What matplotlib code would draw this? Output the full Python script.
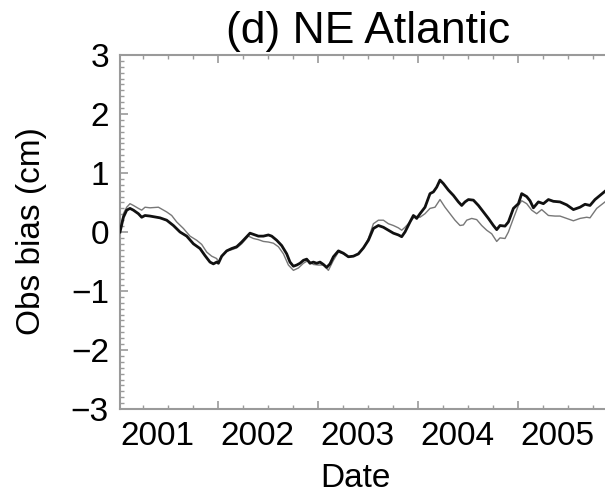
import matplotlib
matplotlib.use("Agg")
import matplotlib.pyplot as plt
from matplotlib.ticker import MultipleLocator, NullFormatter
from matplotlib.transforms import blended_transform_factory

plt.rcParams['font.family'] = ['Liberation Sans', 'DejaVu Sans']

# Thick black series (decimal years, cm)
black_t = [2001.023, 2001.057, 2001.090, 2001.123, 2001.157, 2001.207, 2001.240, 2001.273,
           2001.323, 2001.423, 2001.490, 2001.557, 2001.623, 2001.690, 2001.757, 2001.823,
           2001.873, 2001.923, 2001.957, 2001.990, 2002.007, 2002.040, 2002.090, 2002.140,
           2002.190, 2002.240, 2002.290, 2002.323, 2002.357, 2002.407, 2002.457, 2002.507,
           2002.540, 2002.590, 2002.640, 2002.690, 2002.723, 2002.757, 2002.790, 2002.823,
           2002.857, 2002.890, 2002.923, 2002.957, 2002.990, 2003.023, 2003.057, 2003.090,
           2003.123, 2003.157, 2003.207, 2003.257, 2003.307, 2003.357, 2003.407, 2003.457,
           2003.507, 2003.557, 2003.607, 2003.657, 2003.707, 2003.757, 2003.807, 2003.840,
           2003.873, 2003.923, 2003.957, 2003.990, 2004.023, 2004.073, 2004.123, 2004.157,
           2004.190, 2004.223, 2004.257, 2004.307, 2004.357, 2004.407, 2004.440, 2004.473,
           2004.507, 2004.557, 2004.607, 2004.657, 2004.707, 2004.757, 2004.790, 2004.823,
           2004.873, 2004.907, 2004.957, 2005.007, 2005.040, 2005.090, 2005.123, 2005.157,
           2005.207, 2005.257, 2005.307, 2005.357, 2005.423, 2005.490, 2005.557, 2005.623,
           2005.673, 2005.723, 2005.773, 2005.823, 2005.873]
black_v = [0.00, 0.25, 0.37, 0.40, 0.37, 0.31, 0.25, 0.28,
           0.27, 0.24, 0.20, 0.11, 0.00, -0.07, -0.20, -0.28,
           -0.40, -0.51, -0.54, -0.51, -0.53, -0.41, -0.32, -0.28,
           -0.25, -0.17, -0.08, -0.02, -0.04, -0.07, -0.07, -0.05,
           -0.07, -0.14, -0.23, -0.37, -0.51, -0.58, -0.56, -0.53,
           -0.48, -0.46, -0.53, -0.51, -0.53, -0.51, -0.55, -0.60,
           -0.54, -0.42, -0.32, -0.36, -0.42, -0.41, -0.37, -0.27,
           -0.14, 0.06, 0.11, 0.08, 0.03, -0.02, -0.05, -0.08,
           0.00, 0.17, 0.28, 0.23, 0.31, 0.42, 0.65, 0.68,
           0.76, 0.88, 0.82, 0.71, 0.62, 0.51, 0.45, 0.51,
           0.55, 0.54, 0.45, 0.34, 0.23, 0.11, 0.04, 0.11,
           0.10, 0.17, 0.40, 0.48, 0.65, 0.60, 0.53, 0.41,
           0.51, 0.48, 0.55, 0.52, 0.51, 0.46, 0.38, 0.42,
           0.47, 0.45, 0.55, 0.62, 0.69]

# Thin grey series
grey_t = [2001.023, 2001.057, 2001.090, 2001.123, 2001.157, 2001.207, 2001.240, 2001.273,
          2001.323, 2001.407, 2001.490, 2001.540, 2001.590, 2001.657, 2001.723, 2001.790,
          2001.840, 2001.890, 2001.940, 2001.990, 2002.007, 2002.040, 2002.090, 2002.140,
          2002.190, 2002.240, 2002.307, 2002.357, 2002.407, 2002.457, 2002.507, 2002.557,
          2002.607, 2002.657, 2002.707, 2002.757, 2002.807, 2002.857, 2002.907, 2002.957,
          2003.007, 2003.057, 2003.107, 2003.157, 2003.207, 2003.257, 2003.307, 2003.357,
          2003.407, 2003.457, 2003.507, 2003.557, 2003.607, 2003.657, 2003.707, 2003.757,
          2003.807, 2003.840, 2003.873, 2003.923, 2003.973, 2004.023, 2004.073, 2004.123,
          2004.173, 2004.223, 2004.273, 2004.323, 2004.373, 2004.423, 2004.457, 2004.490,
          2004.540, 2004.590, 2004.640, 2004.690, 2004.740, 2004.790, 2004.823, 2004.873,
          2004.907, 2004.957, 2005.007, 2005.040, 2005.090, 2005.140, 2005.190, 2005.240,
          2005.307, 2005.373, 2005.423, 2005.490, 2005.557, 2005.623, 2005.690, 2005.723,
          2005.790, 2005.873]
grey_v = [0.00, 0.31, 0.42, 0.48, 0.45, 0.40, 0.37, 0.42,
          0.41, 0.42, 0.34, 0.28, 0.17, 0.06, -0.07, -0.14,
          -0.21, -0.34, -0.41, -0.45, -0.51, -0.42, -0.32, -0.30,
          -0.27, -0.20, -0.07, -0.11, -0.13, -0.16, -0.17, -0.19,
          -0.25, -0.37, -0.56, -0.65, -0.61, -0.53, -0.48, -0.55,
          -0.56, -0.56, -0.65, -0.48, -0.34, -0.37, -0.42, -0.41,
          -0.38, -0.27, -0.11, 0.14, 0.20, 0.20, 0.14, 0.11,
          0.07, 0.03, 0.08, 0.17, 0.27, 0.25, 0.31, 0.40,
          0.42, 0.55, 0.42, 0.31, 0.20, 0.11, 0.12, 0.20,
          0.23, 0.21, 0.11, 0.03, -0.03, -0.16, -0.10, -0.11,
          0.00, 0.23, 0.45, 0.53, 0.48, 0.37, 0.31, 0.38,
          0.28, 0.27, 0.27, 0.23, 0.19, 0.23, 0.25, 0.24,
          0.40, 0.51]

year_labels = ['2001', '2002', '2003', '2004', '2005']
year_label_pos = [2001.40, 2002.40, 2003.40, 2004.40, 2005.40]
year_ticks = [2002, 2003, 2004, 2005]
y_ticks = [-3, -2, -1, 0, 1, 2, 3]

fig = plt.figure(figsize=(6.05, 4.94), dpi=100)
W, H = 605, 494
left, right, top, bottom = 120, 605, 55, 409
ax = fig.add_axes([left / W, 1 - bottom / H, (right - left) / W, (bottom - top) / H])

ax.plot(grey_t, grey_v, color='#777777', lw=1.0, zorder=2)
ax.plot(black_t, black_v, color='#111111', lw=2.0, zorder=3)

ax.set_xlim(black_t[0], black_t[-1])
ax.set_ylim(-3, 3)

frame = '#9a9a9a'
for side in ['left', 'top', 'bottom']:
    ax.spines[side].set_color(frame)
    ax.spines[side].set_linewidth(1.5)
ax.spines['right'].set_visible(False)

ax.set_xticks(year_ticks)
ax.xaxis.set_minor_locator(MultipleLocator(0.25))
ax.xaxis.set_major_formatter(NullFormatter())
ax.set_yticks(y_ticks)
ax.set_yticklabels(['\u22123', '\u22122', '\u22121', '0', '1', '2', '3'])
ax.yaxis.set_minor_locator(MultipleLocator(0.1))

ax.tick_params(which='both', direction='in', colors=frame, top=True, right=False,
               labelcolor='black', labelsize=24)
ax.tick_params(which='major', length=6, width=1.2)
ax.tick_params(which='minor', length=3, width=1.0)
ax.tick_params(axis='y', pad=8)

xtr = blended_transform_factory(ax.transData, fig.transFigure)
for pos, lab in zip(year_label_pos, year_labels):
    ax.text(pos, 1 - 445 / H, lab, transform=xtr, ha='center', va='baseline',
            fontsize=24, clip_on=False)

fig.text(355 / W, 1 - 487 / H, 'Date', ha='center', va='baseline', fontsize=24)
fig.text(32 / W, 1 - 231 / H, 'Obs bias (cm)', ha='center', va='center',
         rotation=90, fontsize=24)
fig.text(368 / W, 1 - 43 / H, '(d) NE Atlantic', ha='center', va='baseline', fontsize=32)

fig.savefig('out.png', dpi=100)
